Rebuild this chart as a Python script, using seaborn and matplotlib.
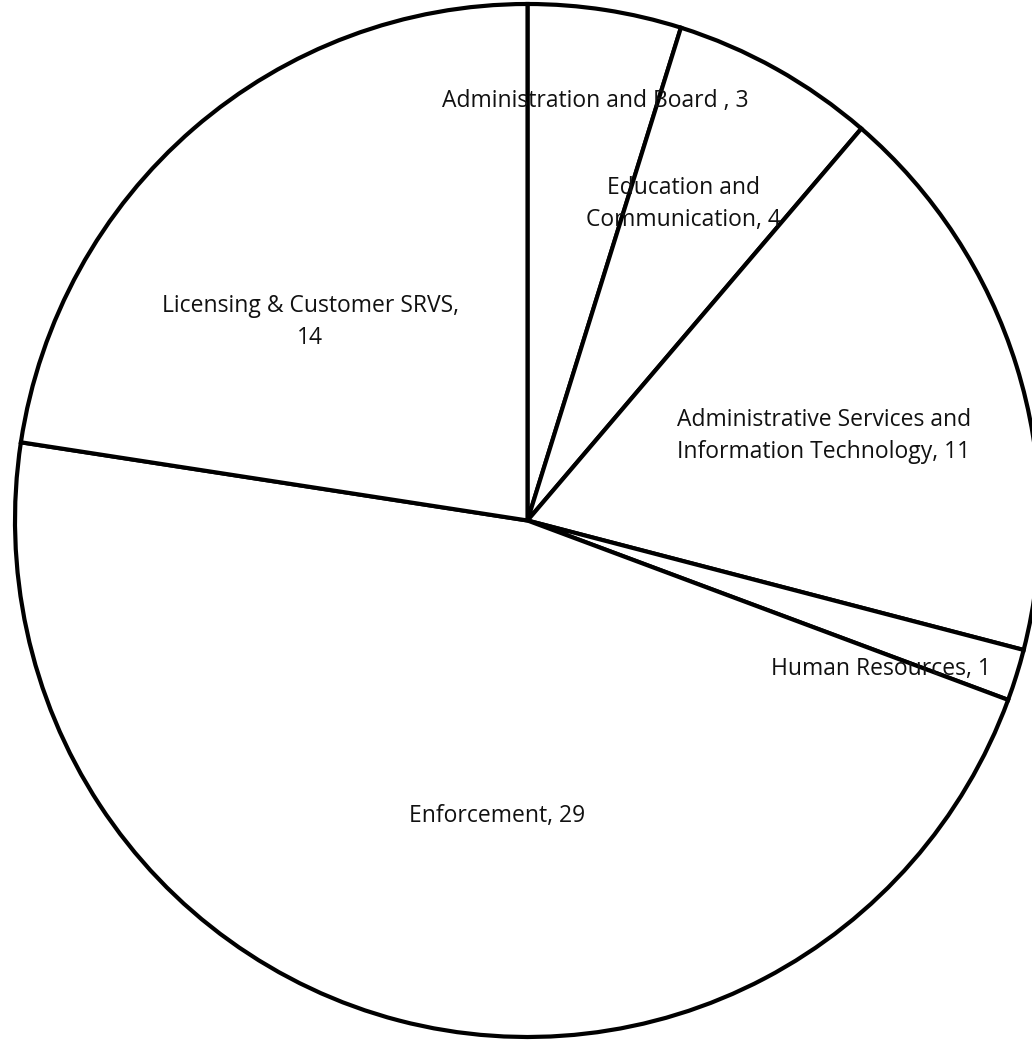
import matplotlib
matplotlib.use('Agg')
import matplotlib.pyplot as plt
import seaborn as sns

# Department headcount
departments = ['Administration and Board ', 'Education and\nCommunication',
               'Administrative Services and\nInformation Technology', 'Human Resources',
               'Enforcement', 'Licensing & Customer SRVS,\n']
counts = [3, 4, 11, 1, 29, 14]

# label anchor points inside each wedge (axes data units)
label_xy = [(0.132, 0.812), (0.305, 0.613), (0.578, 0.164),
            (0.690, -0.288), (-0.060, -0.572), (-0.424, 0.385)]

sns.set_theme(style='white')
plt.rcParams['font.family'] = ['Open Sans', 'DejaVu Sans']

fig = plt.figure(figsize=(10.32, 10.41), dpi=100)
ax = fig.add_axes([15 / 1032, 4 / 1041, 1025 / 1032, 1033 / 1041])

wedges, _ = ax.pie(counts, startangle=90, counterclock=False, radius=1,
                   wedgeprops=dict(facecolor='white', edgecolor='black', linewidth=3))
for w in wedges:
    w.set_clip_on(False)

for name, n, (x, y) in zip(departments, counts, label_xy):
    txt = f'{name}{n}' if name.endswith('\n') else f'{name}, {n}'
    ax.text(x, y, txt, ha='center', va='center', fontsize=16.5, color='#111111',
            linespacing=1.45)

ax.set_aspect('auto')
ax.set_xlim(-1, 1)
ax.set_ylim(-1, 1)
ax.axis('off')

fig.savefig('out.png', dpi=100, facecolor='white')
